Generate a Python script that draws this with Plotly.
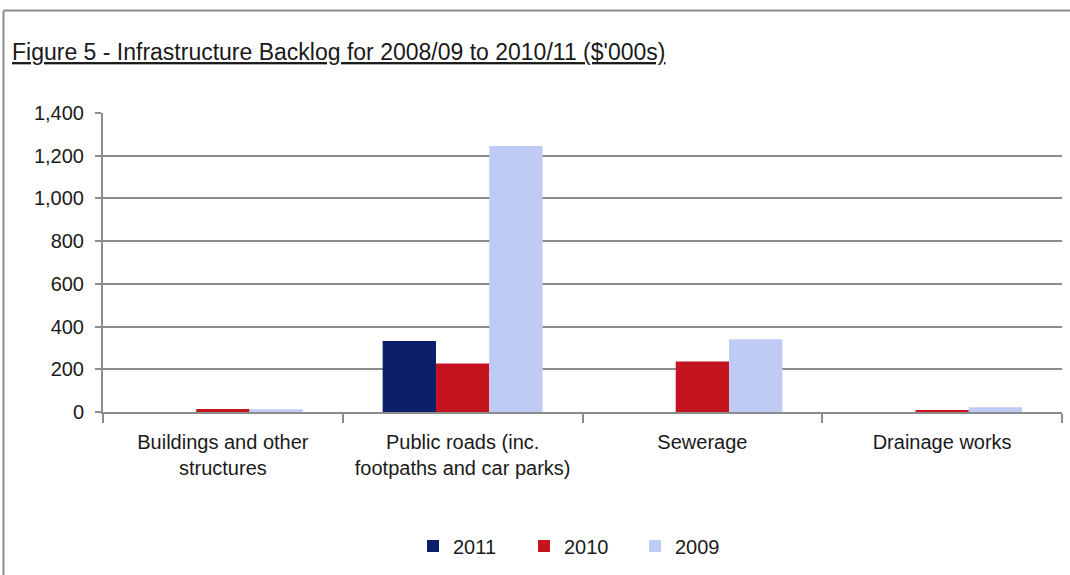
import plotly.graph_objects as go

categories = ["Buildings and other<br>structures", "Public roads (inc.<br>footpaths and car parks)", "Sewerage", "Drainage works"]
series_names = ["2011", "2010", "2009"]
values_2011 = [0, 332, 0, 0]
values_2010 = [14, 227, 236, 5]
values_2009 = [13, 1246, 341, 22]
colors = ["#0b1f6b", "#c4141f", "#c0cbf5"]
y_ticks = [0, 200, 400, 600, 800, 1000, 1200, 1400]

FONT = "Liberation Sans, Arial, sans-serif"
W, H = 1070, 575
L, R, T, B = 103, 8, 113, 163

fig = go.Figure()
for name, vals, col in zip(series_names, [values_2011, values_2010, values_2009], colors):
    fig.add_trace(go.Bar(x=categories, y=vals, name=name, marker=dict(color=col, line=dict(width=0))))

pw = W - L - R
ph = H - T - B
def px2paper_x(px):
    return (px - L) / pw
def py2paper_y(py):
    return (H - B - py) / ph

gray = "#8c8c8c"
txt = "#1a1a1a"
fig.update_layout(
    width=W, height=H,
    margin=dict(l=L, r=R, t=T, b=B, pad=0, autoexpand=False),
    paper_bgcolor="white", plot_bgcolor="white",
    barmode="group", bargap=0.333, bargroupgap=0,
    font=dict(family=FONT, size=20, color=txt),
    title=dict(text="<u>Figure 5 - Infrastructure Backlog for 2008/09 to 2010/11 ($'000s)</u>",
               x=12 / W, xanchor="left", xref="container",
               y=1 - 52 / H, yanchor="middle", yref="container",
               font=dict(family=FONT, size=23, color=txt)),
    xaxis=dict(showline=True, linecolor=gray, linewidth=2, ticks="outside", tickson="boundaries",
               ticklen=9, tickcolor=gray, tickwidth=2, showgrid=False, ticklabelstandoff=11,
               tickfont=dict(family=FONT, size=20, color=txt)),
    yaxis=dict(range=[0, 1400], tickvals=y_ticks, tickformat=",d", showline=True, linecolor=gray, linewidth=2,
               ticks="outside", ticklen=6, tickcolor=gray, tickwidth=2, ticklabelstandoff=7,
               showgrid=True, gridcolor=gray, gridwidth=2, zeroline=False,
               tickfont=dict(family=FONT, size=20, color=txt)),
    legend=dict(orientation="h", x=px2paper_x(413), xanchor="left",
                y=py2paper_y(546), yanchor="middle", font=dict(family=FONT, size=20, color=txt),
                itemwidth=30, entrywidth=66, entrywidthmode="pixels", tracegroupgap=0),
    shapes=[
        dict(type="line", xref="paper", yref="paper", x0=px2paper_x(3.5), x1=px2paper_x(W), y0=py2paper_y(10.5), y1=py2paper_y(10.5),
             line=dict(color=gray, width=2)),
        dict(type="line", xref="paper", yref="paper", x0=px2paper_x(3.5), x1=px2paper_x(3.5), y0=py2paper_y(10.5), y1=py2paper_y(H),
             line=dict(color=gray, width=2)),
    ],
)
fig.write_html("out.html")
